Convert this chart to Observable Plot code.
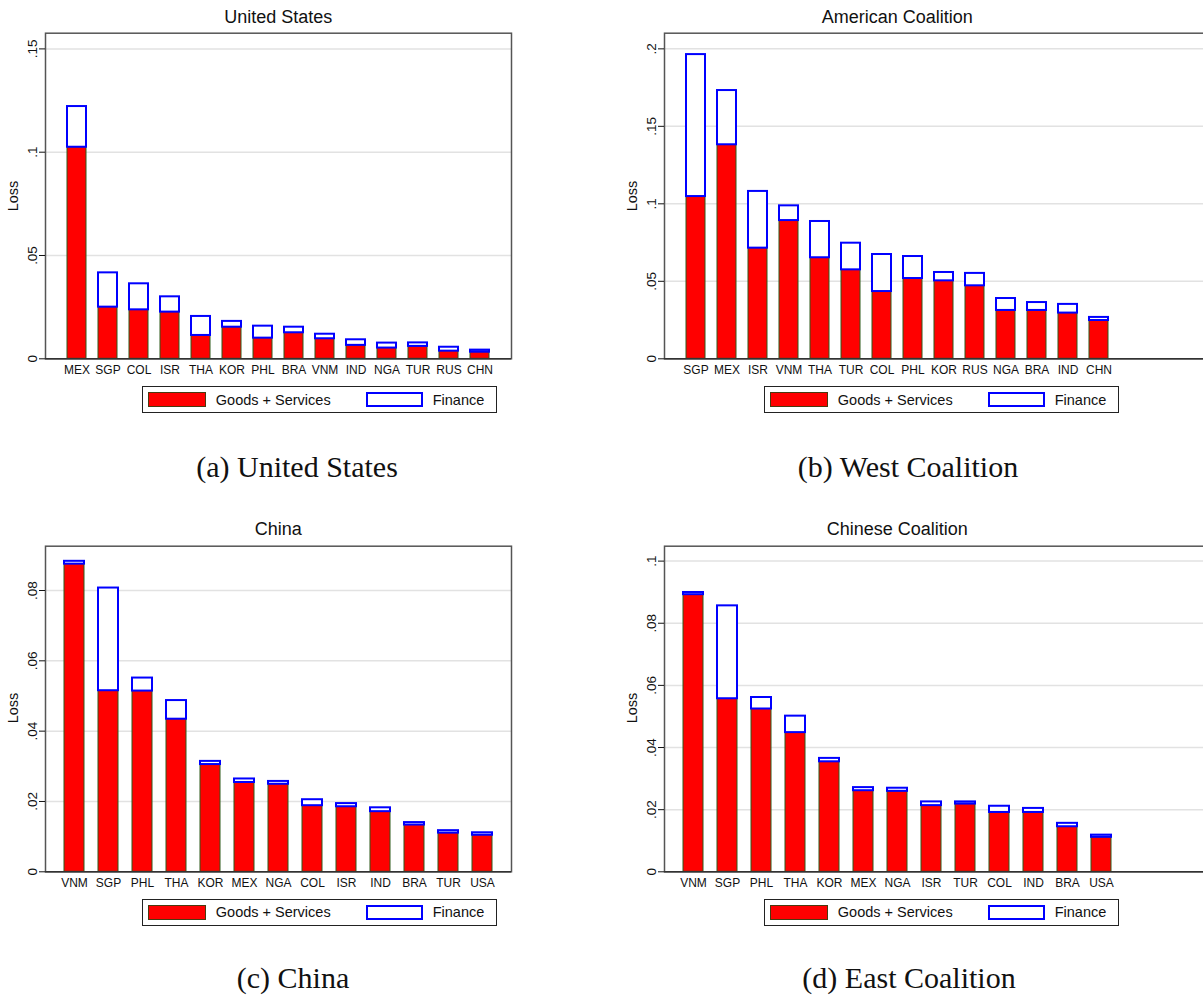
<!DOCTYPE html>
<html><head><meta charset="utf-8">
<script src="https://cdn.jsdelivr.net/npm/d3@7"></script>
<script src="https://cdn.jsdelivr.net/npm/@observablehq/plot@0.6"></script>
<style>
html,body{margin:0;padding:0;background:#fff;overflow:hidden;}
#root{position:relative;width:1203px;height:996px;overflow:hidden;font-family:"Liberation Sans",Arial,sans-serif;color:#111;}
.plotwrap{position:absolute;}
.plotwrap svg{max-width:none !important;}
.title{position:absolute;font-size:18px;transform:translate(-50%,-50%);white-space:nowrap;line-height:1;}
.ylab{position:absolute;font-size:14.5px;transform:translate(-50%,-50%) rotate(-90deg);white-space:nowrap;line-height:1;}
.legend{position:absolute;border:1.3px solid #222;box-sizing:border-box;background:#fff;}
.legend span{position:absolute;font-size:14.5px;line-height:1;white-space:nowrap;top:50%;transform:translateY(-50%);}
.sw{position:absolute;box-sizing:border-box;}
.caption{position:absolute;font-family:"Liberation Serif","Times New Roman",serif;font-size:30px;transform:translate(-50%,-50%);white-space:nowrap;line-height:1;}
</style></head><body><div id="root"></div>
<script>
// ---- Panel (a) United States ----
const usCountries = ["MEX","SGP","COL","ISR","THA","KOR","PHL","BRA","VNM","IND","NGA","TUR","RUS","CHN"];
const usGoods     = [0.1024,0.0250,0.0237,0.0226,0.0113,0.0153,0.0100,0.0126,0.0097,0.0065,0.0052,0.0060,0.0037,0.0032];
const usFinance   = [0.0197,0.0166,0.0126,0.0074,0.0092,0.0028,0.0058,0.0027,0.0022,0.0027,0.0024,0.0017,0.0019,0.0010];
const usTicks     = [0, 0.05, 0.1, 0.15];
const usTickLabels = ["0", ".05", ".1", ".15"];

// ---- Panel (b) American Coalition ----
const acCountries = ["SGP","MEX","ISR","VNM","THA","TUR","COL","PHL","KOR","RUS","NGA","BRA","IND","CHN"];
const acGoods     = [0.1047,0.1381,0.0714,0.0892,0.0652,0.0574,0.0434,0.0518,0.0503,0.0471,0.0312,0.0312,0.0295,0.0247];
const acFinance   = [0.0916,0.0350,0.0366,0.0095,0.0234,0.0172,0.0239,0.0142,0.0054,0.0080,0.0077,0.0051,0.0056,0.0020];
const acTicks     = [0, 0.05, 0.1, 0.15, 0.2];
const acTickLabels = ["0", ".05", ".1", ".15", ".2"];

// ---- Panel (c) China ----
const cnCountries = ["VNM","SGP","PHL","THA","KOR","MEX","NGA","COL","ISR","IND","BRA","TUR","USA"];
const cnGoods     = [0.0875,0.0515,0.0514,0.0434,0.0305,0.0254,0.0249,0.0188,0.0185,0.0171,0.0133,0.0110,0.0104];
const cnFinance   = [0.0008,0.0292,0.0037,0.0053,0.0009,0.0010,0.0008,0.0017,0.0009,0.0011,0.0007,0.0007,0.0007];
const cnTicks     = [0, 0.02, 0.04, 0.06, 0.08];
const cnTickLabels = ["0", ".02", ".04", ".06", ".08"];

// ---- Panel (d) Chinese Coalition ----
const ccCountries = ["VNM","SGP","PHL","THA","KOR","MEX","NGA","ISR","TUR","COL","IND","BRA","USA"];
const ccGoods     = [0.0892,0.0557,0.0524,0.0448,0.0354,0.0261,0.0259,0.0213,0.0218,0.0191,0.0191,0.0145,0.0111];
const ccFinance   = [0.0007,0.0299,0.0037,0.0053,0.0011,0.0010,0.0010,0.0012,0.0007,0.0020,0.0013,0.0011,0.0007];
const ccTicks     = [0, 0.02, 0.04, 0.06, 0.08, 0.1];
const ccTickLabels = ["0", ".02", ".04", ".06", ".08", ".1"];

const seriesNames = ["Goods + Services", "Finance"];

const panels = [
  {title:"United States", caption:"(a) United States", countries:usCountries, goods:usGoods, finance:usFinance, ticks:usTicks, labels:usTickLabels, yMax:0.1576, dx:0, dy:0, capX:297, capY:466.5, open:false},
  {title:"American Coalition", caption:"(b) West Coalition", countries:acCountries, goods:acGoods, finance:acFinance, ticks:acTicks, labels:acTickLabels, yMax:0.2101, dx:619, dy:0, capX:908, capY:466.5, open:true},
  {title:"China", caption:"(c) China", countries:cnCountries, goods:cnGoods, finance:cnFinance, ticks:cnTicks, labels:cnTickLabels, yMax:0.0926, dx:0, dy:512.5, capX:293, capY:978, open:false},
  {title:"Chinese Coalition", caption:"(d) East Coalition", countries:ccCountries, goods:ccGoods, finance:ccFinance, ticks:ccTicks, labels:ccTickLabels, yMax:0.1048, dx:619, dy:512.5, capX:909, capY:978, open:true}
];

const root = document.getElementById("root");
function el(tag, cls, text, style){
  const e = document.createElement(tag);
  if (cls) e.className = cls;
  if (text != null) e.textContent = text;
  Object.assign(e.style, style || {});
  root.appendChild(e);
  return e;
}

for (const p of panels) {
  const data = p.countries.map((c, i) => ({c, goods: p.goods[i], total: p.goods[i] + p.finance[i]}));
  const fmt = d => p.labels[p.ticks.indexOf(d)] ?? "";
  const W = p.open ? 700 : 600;
  const chart = Plot.plot({
    width: W, height: 388.3,
    marginLeft: 45, marginRight: p.open ? 0 : 89, marginTop: 32.7, marginBottom: 30,
    style: {fontFamily: "'Liberation Sans', Arial, sans-serif", background: "transparent", color: "#111", overflow: "visible", maxWidth: "none"},
    x: {domain: p.countries, range: [45, 511], paddingInner: 0.4, paddingOuter: 0.55, label: null},
    y: {domain: [0, p.yMax], label: null},
    marks: [
      Plot.gridY(p.ticks.filter(d => d > 0), {stroke: "#e2e2e2", strokeOpacity: 1, strokeWidth: 1.5}),
      Plot.barY(data, {x: "c", y1: 0, y2: "goods", fill: "#ff0000", stroke: "#2f5a1a", strokeWidth: 1}),
      Plot.barY(data, {x: "c", y1: "goods", y2: "total", fill: "#ffffff", stroke: "#0000ff", strokeWidth: 2}),
      Plot.frame({stroke: "#555", strokeWidth: 1.5}),
      Plot.ruleY([0], {stroke: "#333", strokeWidth: 1.5}),
      Plot.axisY(p.ticks, {tickSize: 6, tickPadding: 3, tickRotate: -90, tickFormat: fmt, fontSize: 13.5, label: null}),
      Plot.axisX({tickSize: 0, tickPadding: 7, fontSize: 12, label: null})
    ]
  });
  chart.style.maxWidth = "none";
  chart.style.width = W + "px";
  chart.style.height = "388.3px";
  const wrap = el("div", "plotwrap", null, {left: p.dx + "px", top: p.dy + "px", width: W + "px"});
  wrap.appendChild(chart);

  el("div", "title", p.title, {left: (278.3 + p.dx) + "px", top: (16.7 + p.dy) + "px"});
  el("div", "ylab", "Loss", {left: (13.3 + p.dx) + "px", top: (195.5 + p.dy) + "px"});

  const lg = el("div", "legend", null, {left: (142.3 + (p.dx ? 622 : 0)) + "px", top: (386 + p.dy) + "px", width: "354.4px", height: "27.3px"});
  const s1 = document.createElement("div"); s1.className = "sw";
  Object.assign(s1.style, {left: "5px", top: "5.2px", width: "57.7px", height: "15px", background: "#ff0000", border: "1px solid #4a3a10"});
  lg.appendChild(s1);
  const t1 = document.createElement("span"); t1.textContent = seriesNames[0]; t1.style.left = "72.5px"; lg.appendChild(t1);
  const s2 = document.createElement("div"); s2.className = "sw";
  Object.assign(s2.style, {left: "222.7px", top: "5.2px", width: "56.7px", height: "15px", background: "#fff", border: "2px solid #0000ff"});
  lg.appendChild(s2);
  const t2 = document.createElement("span"); t2.textContent = seriesNames[1]; t2.style.left = "289.4px"; lg.appendChild(t2);

  el("div", "caption", p.caption, {left: p.capX + "px", top: p.capY + "px"});
}
</script></body></html>
